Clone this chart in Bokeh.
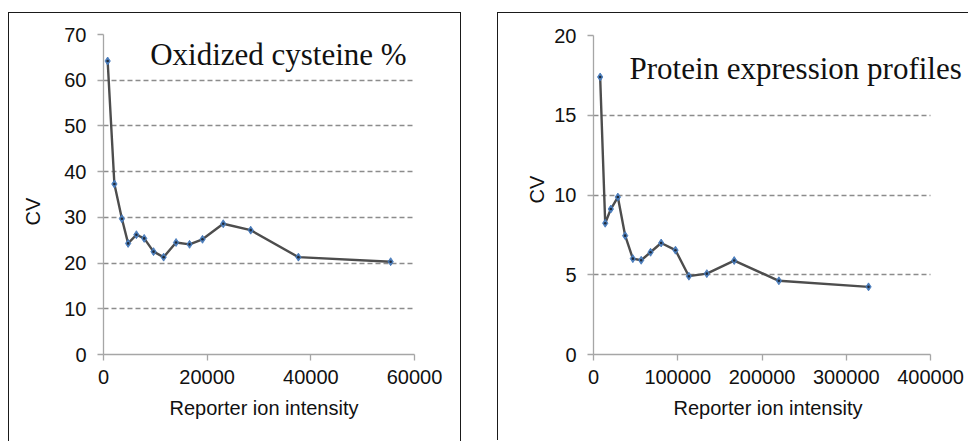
from bokeh.plotting import figure
from bokeh.layouts import row
from bokeh.models import Label, FixedTicker, Range1d, BasicTickFormatter, Title
from bokeh.embed import file_html
from bokeh.resources import INLINE

# ---- data ----
ox_intensity = [800, 2100, 3550, 4750, 6350, 7850, 9650, 11600, 14000, 16600,
                19100, 23100, 28400, 37600, 55400]
ox_cv = [64.2, 37.3, 29.7, 24.3, 26.2, 25.4, 22.5, 21.3, 24.5, 24.1,
         25.2, 28.6, 27.2, 21.3, 20.3]

prot_intensity = [7900, 13900, 20600, 28900, 37600, 46700, 56600, 67700, 80300, 97300,
                  113200, 134500, 167000, 220000, 326400]
prot_cv = [17.4, 8.23, 9.12, 9.87, 7.45, 6.01, 5.91, 6.41, 6.99, 6.54,
           4.91, 5.07, 5.89, 4.62, 4.24]

ox_xticks = [0, 20000, 40000, 60000]
ox_yticks = [0, 10, 20, 30, 40, 50, 60, 70]
prot_xticks = [0, 100000, 200000, 300000, 400000]
prot_yticks = [0, 5, 10, 15, 20]

x_title = "Reporter ion intensity"
y_title = "CV"
ox_title = "Oxidized cysteine %"
prot_title = "Protein expression profiles"

SANS = "Liberation Sans"
SERIF = "Liberation Serif"
INK = "#111111"
EDGE = "#1a1a1a"
FS = "20px"


def make_panel(xs, ys, xticks, yticks, x_view_end, title, title_x, title_y,
               width, height, mb_left, mb_right, mb_top, styles, margin,
               xtitle_offset, cv_offset, cv_standoff):
    p = figure(width=width, height=height,
               x_range=Range1d(xticks[0], x_view_end),
               y_range=Range1d(yticks[0], yticks[-1]),
               output_backend="svg", toolbar_location=None,
               min_border_left=mb_left, min_border_right=mb_right,
               min_border_top=mb_top, min_border_bottom=87,
               background_fill_color="white", border_fill_color=None)
    p.styles = styles
    p.margin = margin
    p.outline_line_color = None
    p.xgrid.grid_line_color = None
    p.ygrid.grid_line_color = "#8c8c8c"
    p.ygrid.grid_line_dash = "5 3"
    p.ygrid.grid_line_width = 1.3
    p.ygrid.ticker = FixedTicker(ticks=yticks)
    if "cross_bounds" in p.ygrid[0].properties():
        p.ygrid.cross_bounds = (xticks[0], xticks[-1])

    for ax in (p.xaxis[0], p.yaxis[0]):
        ax.axis_line_color = "#a6a6a6"
        ax.axis_line_width = 1.3
        ax.major_tick_line_color = "#a6a6a6"
        ax.major_tick_line_width = 1.3
        ax.major_tick_out = 6
        ax.major_tick_in = 0
        ax.minor_tick_line_color = None
        ax.major_label_text_font = SANS
        ax.major_label_text_font_size = FS
        ax.major_label_text_color = INK

    p.xaxis.bounds = (xticks[0], xticks[-1])
    p.xaxis.ticker = FixedTicker(ticks=xticks)
    p.yaxis.ticker = FixedTicker(ticks=yticks)
    p.xaxis.formatter = BasicTickFormatter(use_scientific=False)
    p.xaxis.major_label_standoff = 9
    p.yaxis.major_label_standoff = 11

    # axis titles as side titles so that they can be positioned like the original
    p.add_layout(Title(text=x_title, align="left", offset=xtitle_offset,
                       text_font=SANS, text_font_size=FS,
                       text_font_style="normal", text_color=INK,
                       standoff=16), "below")
    p.add_layout(Title(text=y_title, align="left", offset=cv_offset,
                       vertical_align="bottom",
                       text_font=SANS, text_font_size=FS,
                       text_font_style="normal", text_color=INK,
                       standoff=cv_standoff), "left")

    p.line(xs, ys, line_color="#4d4d4d", line_width=2.4)
    p.scatter(xs, ys, marker="diamond", size=8, fill_color="#4f81bd",
              line_color="#3f73b8", line_width=0.8)
    p.scatter(xs, ys, marker="circle", size=2.6, fill_color="#1f2a3a",
              line_color=None)

    p.add_layout(Label(x=title_x, y=title_y, text=title,
                       text_font=SERIF, text_font_size="31px",
                       text_color=INK, text_baseline="alphabetic",
                       text_align="left"))
    return p


# left panel: its box edge is painted as a CSS background line 8px in,
# so the canvas can use the space left of the box edge
left_styles = {
    "background-color": "white",
    "background-image": f"linear-gradient({EDGE},{EDGE}), linear-gradient({EDGE},{EDGE})",
    "background-size": "1px 100%, 454px 1px",
    "background-position": "8px 0px, 8px 0px",
    "background-repeat": "no-repeat",
    "border-right": f"1px solid {EDGE}",
}
right_styles = {
    "background-color": "white",
    "border-top": f"1px solid {EDGE}",
    "border-left": f"1px solid {EDGE}",
}

p1 = make_panel(ox_intensity, ox_cv, ox_xticks, ox_yticks, ox_xticks[-1],
                ox_title, 9000, 65.7, 461, 429, 103, 47, 22,
                left_styles, (12, 0, 0, 0), 66, 129, 36)
p2 = make_panel(prot_intensity, prot_cv, prot_xticks, prot_yticks, 441500,
                prot_title, 42700, 17.95, 471, 428, 95, 4, 21,
                right_styles, (12, 0, 0, 36), 80, 151, 8)

layout = row(p1, p2)
open("out.html", "w").write(file_html(layout, INLINE))
